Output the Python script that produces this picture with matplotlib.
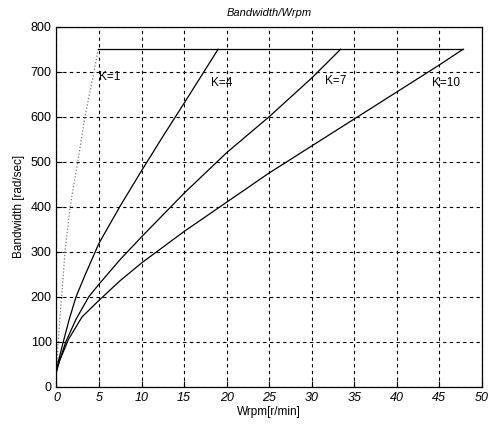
import numpy as np
import matplotlib
matplotlib.use("Agg")
import matplotlib.pyplot as plt

plt.rcParams['font.family'] = ['Liberation Sans', 'DejaVu Sans']

# Curves: (Wrpm, bandwidth) points up to the 750 rad/sec limit
k1_x = [0, 0.05, 0.2, 0.4, 0.6, 0.8, 1.0, 1.6, 2.5, 3.35, 4.4, 4.9]
k1_y = [33, 50, 100, 150, 200, 250, 300, 400, 500, 600, 700, 750]
k4_x = [0, 0.2, 0.8, 1.5, 2.3, 3.4, 5.0, 7.5, 10.0, 12.5, 15.0, 17.0, 19.0]
k4_y = [35, 55, 100, 150, 200, 250, 319, 402, 480, 556, 630, 690, 750]
k7_x = [0, 0.3, 1.1, 2.3, 3.8, 5.0, 7.5, 10.0, 15.0, 20.0, 25.0, 30.0, 33.4]
k7_y = [35, 55, 100, 150, 200, 228, 283, 333, 430, 520, 600, 686, 750]
k10_x = [0, 0.35, 1.4, 3.0, 5.0, 7.5, 10.0, 15.0, 20.0, 25.0, 30.0, 35.0, 40.0, 45.0, 47.8]
k10_y = [35, 57, 105, 155, 192, 236, 275, 345, 410, 475, 535, 595, 655, 715, 750]

limit_y = 750
limit_x = [4.9, 47.8]

labels = ['K=1', 'K=4', 'K=7', 'K=10']
label_x = [5.0, 18.2, 31.6, 44.2]
label_y = [688, 675, 680, 675]

xticks = [0, 5, 10, 15, 20, 25, 30, 35, 40, 45, 50]
yticks = [0, 100, 200, 300, 400, 500, 600, 700, 800]

fig = plt.figure(figsize=(4.9, 4.28), dpi=100)
ax = fig.add_axes([0.1153, 0.0965, 0.868, 0.841])

ax.plot(k1_x, k1_y, color='#777777', linestyle=':', linewidth=0.9)
ax.plot(k4_x, k4_y, color='black', linewidth=0.9)
ax.plot(k7_x, k7_y, color='black', linewidth=0.9)
ax.plot(k10_x, k10_y, color='black', linewidth=0.9)
ax.plot(limit_x, [limit_y, limit_y], color='black', linewidth=0.9)

for lab, lx, ly in zip(labels, label_x, label_y):
    ax.text(lx, ly, lab, fontsize=8.5, ha='left', va='center')

ax.set_xlim(0, 50)
ax.set_ylim(0, 800)
ax.set_xticks(xticks)
ax.set_yticks(yticks)
ax.set_xticklabels([str(v) for v in xticks], fontstyle='italic', fontsize=9)
ax.set_yticklabels([str(v) for v in yticks], fontsize=9)
ax.tick_params(direction='in', length=4, width=0.8)
ax.grid(True, color='black', linestyle=(0, (3, 3)), linewidth=0.8)
for s in ax.spines.values():
    s.set_linewidth(0.9)

ax.set_title('Bandwidth/Wrpm', fontsize=8, fontstyle='italic', pad=8)
ax.set_xlabel('Wrpm[r/min]', fontsize=8.5, labelpad=2)
ax.set_ylabel('Bandwidth [rad/sec]', fontsize=8.5, labelpad=4)

fig.savefig('out.png', dpi=100)
